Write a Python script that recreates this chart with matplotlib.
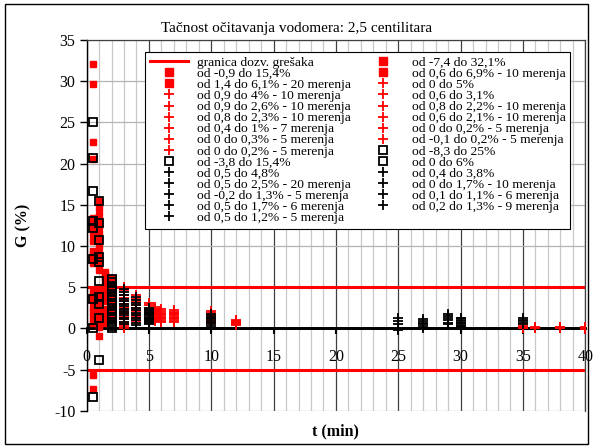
"""
Tačnost očitavanja vodomera - rasipanje greške G (%) po vremenu t (min)
izlaz: out.png
"""
import matplotlib
matplotlib.use("Agg")
import matplotlib.pyplot as plt
from matplotlib.patches import Rectangle
from matplotlib.ticker import MultipleLocator

plt.rcParams["font.family"] = ["Liberation Serif", "DejaVu Serif"]
plt.rcParams["axes.unicode_minus"] = False

RED = "#ff0000"
BLK = "#000000"

# ── podaci (t u min, G u %) ──────────────────────────────────────────────────
limit_g = [5, -5]

red_sq_t05 = [32.1, 29.7, 22.6, 20.6, 13.4, 12.9, 12.2, 11.4, 10.6, 9.4, 9.0,
              8.5, 7.9, 4.5, 4.0, 3.4, 2.6, 2.0, 1.4, 0.6, -5.6, -7.4]
red_sq_t1 = [15.4, 14.6, 13.8, 13.0, 12.4, 11.6, 10.8, 9.9, 9.0, 8.4, 7.8,
             7.1, 4.6, 3.9, 3.2, 2.4, 1.6, 0.8, 0.2, -0.9]
red_sq_t15 = [6.9, 6.6, 6.2, 5.7, 4.9, 4.1, 3.3, 2.4, 1.5, 0.6]
red_sq_t2 = [6.1, 5.9, 5.6, 5.3, 5.0, 4.8, 4.5, 4.2, 4.0, 3.7, 3.4, 3.2,
             2.9, 2.7, 2.4, 2.2, 2.0, 1.8, 1.6, 1.4]

blk_sq_t05 = [25.0, 20.7, 16.7, 13.0, 12.2, 8.4, 3.6, 0.1, -8.3]
blk_sq_t1 = [15.4, 12.8, 10.7, 8.6, 8.0, 5.8, 3.8, 3.0, 1.2, -3.8]
blk_sq_t2 = [6.0, 5.6, 5.2, 4.9, 4.5, 4.1, 3.8, 3.4, 3.1, 2.8, 2.4, 2.1,
             1.8, 1.4, 1.1, 0.8, 0.5, 0.3, 0.0]

red_pl_t3 = [5.0, 4.6, 4.1, 3.7, 3.3, 3.0, 2.6, 2.3, 2.0, 1.7, 1.4, 1.1,
             0.8, 0.5, 0.3, 0.0]
red_pl_t4 = [4.0, 3.6, 3.2, 2.8, 2.5, 2.1, 1.8, 1.5, 1.2, 0.9]
red_pl_t5 = [3.1, 2.8, 2.5, 2.2, 1.9, 1.6, 1.3, 1.0, 0.6]
red_pl_t55 = [2.6, 2.4, 2.2, 2.0, 1.8, 1.6, 1.4, 1.2, 1.0, 0.9]
red_pl_t6 = [2.3, 2.1, 1.9, 1.8, 1.6, 1.4, 1.3, 1.1, 0.9, 0.8]
red_pl_t7 = [2.2, 2.0, 1.9, 1.7, 1.6, 1.4, 1.2, 1.1, 0.9, 0.8]
red_pl_t10 = [2.1, 1.9, 1.7, 1.6, 1.4, 1.2, 1.1, 0.9, 0.7, 0.6]
red_pl_t12 = [1.0, 0.9, 0.8, 0.7, 0.6, 0.5, 0.4]
red_pl_t35 = [0.3, 0.2, 0.1, 0.1, 0.0]
red_pl_t36 = [0.2, 0.1, 0.1, 0.0, 0.0]
red_pl_t38 = [0.2, 0.15, 0.1, 0.05, 0.0]
red_pl_t40 = [0.2, 0.1, 0.0, 0.0, -0.1]

blk_pl_t3 = [4.8, 4.4, 4.0, 3.6, 3.3, 3.0, 2.7, 2.4, 2.1, 1.9, 1.6, 1.3,
             1.1, 0.8, 0.5]
blk_pl_t4 = [3.8, 3.5, 3.1, 2.8, 2.5, 2.2, 1.9, 1.6, 1.3, 1.0, 0.7, 0.4]
blk_pl_t5 = [2.5, 2.4, 2.3, 2.2, 2.1, 2.0, 1.9, 1.8, 1.7, 1.6, 1.4, 1.3,
             1.2, 1.1, 1.0, 0.9, 0.8, 0.7, 0.6, 0.5]
blk_pl_t10 = [1.7, 1.5, 1.3, 1.2, 1.0, 0.8, 0.6, 0.4, 0.2, 0.0]
blk_pl_t25 = [1.3, 0.9, 0.5, 0.1, -0.2]
blk_pl_t27 = [1.1, 0.9, 0.7, 0.5, 0.3, 0.1]
blk_pl_t29 = [1.7, 1.5, 1.2, 1.0, 0.7, 0.5]
blk_pl_t30 = [1.3, 1.2, 1.0, 0.9, 0.7, 0.6, 0.4, 0.3, 0.2]
blk_pl_t35 = [1.2, 1.0, 0.9, 0.7, 0.5]

# (ključ, t, vrednosti, stil, opis u legendi)
series = [
    ("rs05", 0.5, red_sq_t05, "rs", "od -7,4 do 32,1%"),
    ("rs1", 1.0, red_sq_t1, "rs", "od -0,9 do 15,4%"),
    ("rs15", 1.5, red_sq_t15, "rs", "od 0,6 do 6,9% - 10 merenja"),
    ("rs2", 2.0, red_sq_t2, "rs", "od 1,4 do 6,1% - 20 merenja"),
    ("bs05", 0.5, blk_sq_t05, "bs", "od -8,3 do 25%"),
    ("bs1", 1.0, blk_sq_t1, "bs", "od -3,8 do 15,4%"),
    ("bs2", 2.0, blk_sq_t2, "bs", "od 0 do 6%"),
    ("rp3", 3.0, red_pl_t3, "rp", "od 0 do 5%"),
    ("rp4", 4.0, red_pl_t4, "rp", "od 0,9 do 4% - 10 merenja"),
    ("rp5", 5.0, red_pl_t5, "rp", "od 0,6 do 3,1%"),
    ("rp55", 5.5, red_pl_t55, "rp", "od 0,9 do 2,6% - 10 merenja"),
    ("rp6", 6.0, red_pl_t6, "rp", "od 0,8 do 2,3% - 10 merenja"),
    ("rp7", 7.0, red_pl_t7, "rp", "od 0,8 do 2,2% - 10 merenja"),
    ("rp10", 10.0, red_pl_t10, "rp", "od 0,6 do 2,1% - 10 merenja"),
    ("rp12", 12.0, red_pl_t12, "rp", "od 0,4 do 1% - 7 merenja"),
    ("rp35", 35.0, red_pl_t35, "rp", "od 0 do 0,3% - 5 merenja"),
    ("rp36", 36.0, red_pl_t36, "rp", "od 0 do 0,2% - 5 merenja"),
    ("rp38", 38.0, red_pl_t38, "rp", "od 0 do 0,2% - 5 merenja"),
    ("rp40", 40.0, red_pl_t40, "rp", "od -0,1 do 0,2% - 5 merenja"),
    ("bp3", 3.0, blk_pl_t3, "bp", "od 0,5 do 4,8%"),
    ("bp4", 4.0, blk_pl_t4, "bp", "od 0,4 do 3,8%"),
    ("bp5", 5.0, blk_pl_t5, "bp", "od 0,5 do 2,5% - 20 merenja"),
    ("bp10", 10.0, blk_pl_t10, "bp", "od 0 do 1,7% - 10 merenja"),
    ("bp25", 25.0, blk_pl_t25, "bp", "od -0,2 do 1,3% - 5 merenja"),
    ("bp27", 27.0, blk_pl_t27, "bp", "od 0,1 do 1,1% - 6 merenja"),
    ("bp29", 29.0, blk_pl_t29, "bp", "od 0,5 do 1,7% - 6 merenja"),
    ("bp30", 30.0, blk_pl_t30, "bp", "od 0,2 do 1,3% - 9 merenja"),
    ("bp35", 35.0, blk_pl_t35, "bp", "od 0,5 do 1,2% - 5 merenja"),
]

# redosled u legendi (dve kolone, popunjava se po kolonama)
legend_order = ["limit", "rs1", "rs2", "rp4", "rp55", "rp6", "rp12", "rp35",
                "rp36", "bs1", "bp3", "bp5", "bp25", "bp29", "bp35",
                "rs05", "rs15", "rp3", "rp5", "rp7", "rp10", "rp38", "rp40",
                "bs05", "bs2", "bp4", "bp10", "bp27", "bp30"]

STYLES = {
    "rs": dict(marker="s", color=RED, markerfacecolor=RED, markeredgecolor=RED,
               markersize=5, zorder=3),
    "bs": dict(marker="s", color=BLK, markerfacecolor="none", markeredgecolor=BLK,
               markersize=5.2, markeredgewidth=1.3, zorder=4),
    "rp": dict(marker="+", color=RED, markersize=6.5, markeredgewidth=1.3, zorder=5),
    "bp": dict(marker="+", color=BLK, markersize=6.5, markeredgewidth=1.3, zorder=6),
}

# ── figura ───────────────────────────────────────────────────────────────────
fig = plt.figure(figsize=(5.93, 4.48), dpi=100, facecolor="white")
ax = fig.add_axes([0.146, 0.083, 0.841, 0.828])

handles = {}
for g in limit_g:
    h, = ax.plot([0, 40], [g, g], color=RED, linewidth=2.2, zorder=2,
                 label="granica dozv. grešaka")
handles["limit"] = h

for key, t, vals, st, lab in series:
    h, = ax.plot([t] * len(vals), vals, linestyle="none", label=lab, **STYLES[st])
    handles[key] = h

# y=0 osa
ax.axhline(0, color=BLK, linewidth=2.0, zorder=2.5)

ax.set_xlim(0, 40)
ax.set_ylim(-10, 35)
ax.xaxis.set_major_locator(MultipleLocator(5))
ax.xaxis.set_minor_locator(MultipleLocator(1))
ax.yaxis.set_major_locator(MultipleLocator(5))

ax.grid(which="major", axis="x", color="#404040", linewidth=0.9, zorder=0)
ax.grid(which="minor", axis="x", color="#c8c8c8", linewidth=0.9, zorder=0)
ax.grid(which="major", axis="y", color="#b4b4b4", linewidth=0.9, zorder=0)
ax.set_axisbelow(True)

for sp in ["right", "top"]:
    ax.spines[sp].set_color("#404040")
    ax.spines[sp].set_linewidth(0.9)
ax.spines["left"].set_linewidth(1.0)
ax.spines["bottom"].set_position(("data", 0))
ax.spines["bottom"].set_linewidth(2.0)

ax.tick_params(axis="y", which="major", direction="out", length=5, width=1,
               labelsize=11.5, pad=3)
ax.tick_params(axis="x", which="major", direction="out", length=4, width=1.5,
               labelsize=11.5, pad=11)
ax.tick_params(axis="x", which="minor", length=0)

ax.set_xlabel("t (min)", fontsize=11.5, fontweight="bold", labelpad=0)
ax.xaxis.set_label_coords(0.5, -0.035)
ax.set_ylabel("G (%)", fontsize=11.5, fontweight="bold", labelpad=16)

leg = ax.legend([handles[k] for k in legend_order],
                [handles[k].get_label() for k in legend_order],
                ncol=2, loc="upper left", bbox_to_anchor=(0.1175, 0.968),
                fontsize=9.7, frameon=True, fancybox=False, framealpha=1,
                edgecolor=BLK, handlelength=2.8, handletextpad=0.7,
                labelspacing=-0.1, columnspacing=1.0, borderpad=0.35,
                borderaxespad=0, markerscale=1.05)
leg.get_frame().set_linewidth(0.8)
leg.set_zorder(10)

fig.text(0.5, 0.937, "Tačnost očitavanja vodomera: 2,5 centilitara",
         ha="center", va="center", fontsize=11)

# okvir oko cele slike
fig.patches.append(Rectangle((0.009, 0.009), 0.982, 0.982, transform=fig.transFigure,
                             fill=False, edgecolor=BLK, linewidth=1.0))

plt.savefig("out.png", dpi=100, facecolor="white")
plt.close()
